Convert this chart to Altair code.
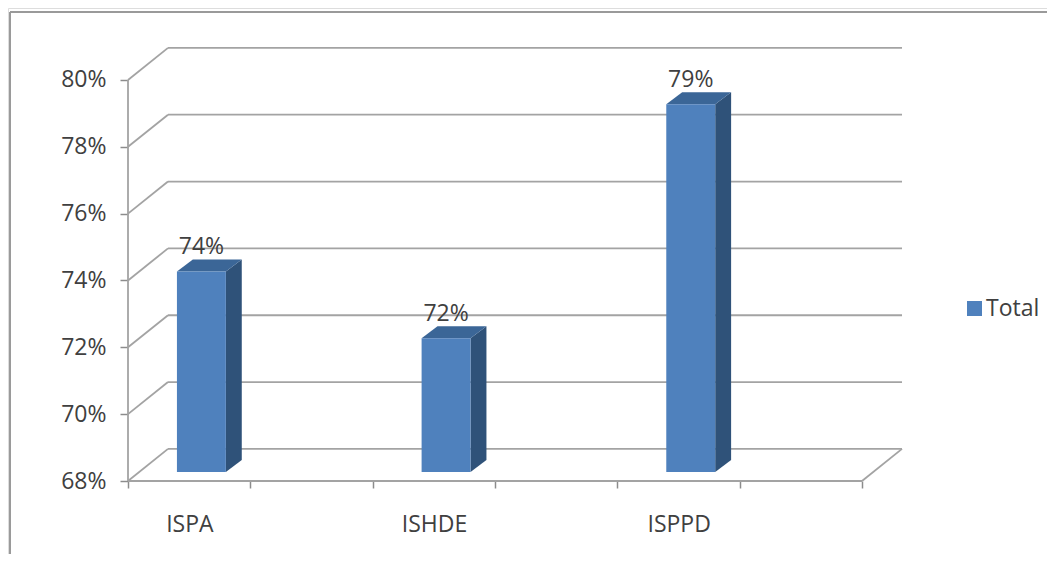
import altair as alt
import pandas as pd

# ---- data ----
categories = ["ISPA", "ISHDE", "ISPPD"]
values = [74, 72, 79]
series_name = "Total"
y_ticks = [68, 70, 72, 74, 76, 78, 80]
x_ticks = [0, 0.5, 1, 1.5, 2, 2.5, 3]

# ---- geometry / style constants (pseudo-3D) ----
W, H = 1039, 546
PX_X = 244.67          # px per category unit
PX_Y = 33.42           # px per percent
XMIN = -120 / PX_X
XMAX = XMIN + W / PX_X
YMIN = 68 - 73 / PX_Y
YMAX = YMIN + H / PX_Y
BASE = 68
DX, DY = 0.1635, 0.96  # wall depth
BL, BW = 0.2, 0.2      # bar front face left offset / width
SH = 0.27              # bar depth shift (y)
SX, SY = 0.065, 0.36   # bar depth

FONT = "Open Sans"
TXT = "#404040"
GRID = "#a3a3a3"
FRONT, SIDE, TOP = "#4F81BD", "#2F5279", "#3B6697"

xs = alt.Scale(domain=[XMIN, XMAX], nice=False, zero=False)
ys = alt.Scale(domain=[YMIN, YMAX], nice=False, zero=False)

x_label_expr = " : ".join(
    f"datum.value == {i + 0.5} ? '{c}'" for i, c in enumerate(categories)
) + " : ''"

AX_X = alt.Axis(
    values=x_ticks, title=None, grid=False, domain=False,
    tickSize=7, tickColor="#8c8c8c", tickWidth=1.5,
    labelExpr=x_label_expr, labelOffset=-61, labelPadding=25,
    labelFont=FONT, labelFontSize=23, labelColor=TXT,
    labelOverlap=False, labelFlush=False, labelBaseline="top",
    offset=-73)
AX_Y = alt.Axis(
    values=y_ticks, title=None, grid=False, domain=False,
    tickSize=8, tickColor="#8c8c8c", tickWidth=1.5,
    labelExpr="datum.value + '%'", labelPadding=14,
    labelFont=FONT, labelFontSize=23, labelColor=TXT,
    labelOverlap=False, labelFlush=False,
    offset=-120)

# wall / grid segments
segs = []
ncat = len(categories)
for t in y_ticks:
    segs.append(dict(x=0, y=t, x2=DX, y2=t + DY))
    segs.append(dict(x=DX, y=t + DY, x2=ncat + DX, y2=t + DY))
segs.append(dict(x=0, y=BASE, x2=ncat, y2=BASE))
segs.append(dict(x=ncat, y=BASE, x2=ncat + DX, y2=BASE + DY))
segs.append(dict(x=0, y=BASE, x2=0, y2=max(y_ticks)))
seg_df = pd.DataFrame(segs)

# border (left & top edges of chart frame)
bx = XMIN + 2 / PX_X
by = YMAX - 4 / PX_Y
border_df = pd.DataFrame([
    dict(x=bx, y=YMIN, x2=bx, y2=by),
    dict(x=bx, y=by, x2=XMAX, y2=by),
])

front_df = pd.DataFrame({
    "cat": categories,
    "x": [i + BL for i in range(ncat)],
    "x2": [i + BL + BW for i in range(ncat)],
    "y": [BASE + SH] * ncat,
    "y2": [v + SH for v in values],
    "series": [series_name] * ncat,
})

side_rows, top_rows = [], []
for i, (c, v) in enumerate(zip(categories, values)):
    side_rows.append(dict(cat=c, x=i + BL + BW, top=v + SH, bot=BASE + SH))
    side_rows.append(dict(cat=c, x=i + BL + BW + SX, top=v + SH + SY, bot=BASE + SH + SY))
    top_rows.append(dict(cat=c, y=v + SH, xl=i + BL, xr=i + BL + BW))
    top_rows.append(dict(cat=c, y=v + SH + SY, xl=i + BL + SX, xr=i + BL + BW + SX))
side_df = pd.DataFrame(side_rows)
top_df = pd.DataFrame(top_rows)

label_df = pd.DataFrame({
    "x": [i + BL + BW / 2 for i in range(ncat)],
    "y": [v + SH + SY for v in values],
    "txt": [f"{v}%" for v in values],
})

axis_layer = alt.Chart(seg_df).mark_rule(color=GRID, strokeWidth=1.8).encode(
    x=alt.X("x:Q", scale=xs, axis=AX_X),
    y=alt.Y("y:Q", scale=ys, axis=AX_Y),
    x2="x2:Q", y2="y2:Q",
)

border_layer = alt.Chart(border_df).mark_rule(color="#9a9a9a", strokeWidth=2).encode(
    x=alt.X("x:Q", scale=xs, axis=AX_X),
    y=alt.Y("y:Q", scale=ys, axis=AX_Y),
    x2="x2:Q", y2="y2:Q",
)

front_layer = alt.Chart(front_df).mark_rect().encode(
    x=alt.X("x:Q", scale=xs, axis=AX_X),
    x2="x2:Q",
    y=alt.Y("y:Q", scale=ys, axis=AX_Y),
    y2="y2:Q",
    color=alt.Color("series:N",
                    scale=alt.Scale(domain=[series_name], range=[FRONT]),
                    legend=alt.Legend(orient="none", legendX=955, legendY=289,
                                      title=None, symbolType="square",
                                      symbolSize=225, symbolStrokeWidth=0,
                                      labelFont=FONT, labelFontSize=23,
                                      labelColor=TXT, labelOffset=0, padding=0)),
)

side_layer = alt.Chart(side_df).mark_area(orient="vertical", color=SIDE).encode(
    x=alt.X("x:Q", scale=xs, axis=AX_X),
    y=alt.Y("top:Q", scale=ys, axis=AX_Y),
    y2="bot:Q",
    detail="cat:N",
)

top_layer = alt.Chart(top_df).mark_area(orient="horizontal", color=TOP).encode(
    y=alt.Y("y:Q", scale=ys, axis=AX_Y),
    x=alt.X("xl:Q", scale=xs, axis=AX_X),
    x2="xr:Q",
    detail="cat:N",
)

text_layer = alt.Chart(label_df).mark_text(
    font=FONT, fontSize=23, color=TXT, baseline="alphabetic", dy=-5
).encode(
    x=alt.X("x:Q", scale=xs, axis=AX_X),
    y=alt.Y("y:Q", scale=ys, axis=AX_Y),
    text="txt:N",
)

chart = alt.layer(
    border_layer, axis_layer, side_layer, top_layer, front_layer, text_layer
).properties(
    width=W, height=H,
    autosize=alt.AutoSizeParams(type="none"),
    padding=0,
).configure_view(stroke=None).configure(background="white")

chart.save("out.html", embed_options={"renderer": "svg", "actions": False})
